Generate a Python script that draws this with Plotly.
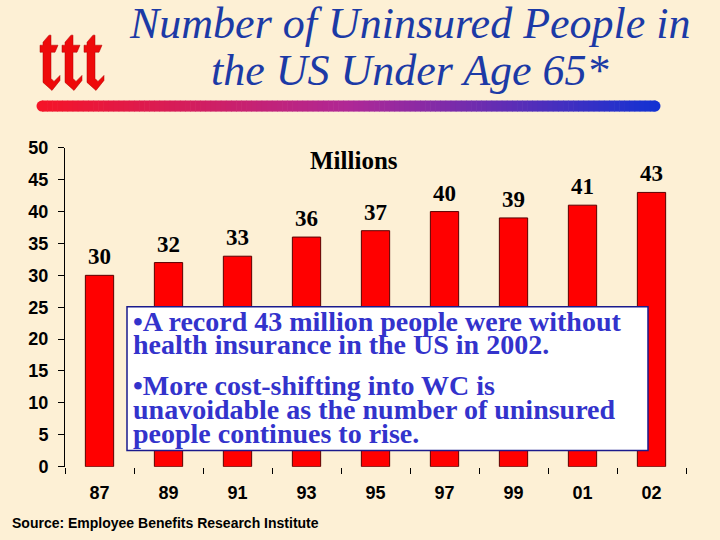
import plotly.graph_objects as go

# ---- data ----
years = ["87", "89", "91", "93", "95", "97", "99", "01", "02"]
uninsured_millions = [30, 32, 33, 36, 37, 40, 39, 41, 43]
y_ticks = [0, 5, 10, 15, 20, 25, 30, 35, 40, 45, 50]
title_lines = ["Number of Uninsured People in", "the US Under Age 65*"]
box_lines = [
    "•A record 43 million people were without",
    "health insurance in the US in 2002.",
    "•More cost-shifting into WC is",
    "unavoidable as the number of uninsured",
    "people continues to rise.",
]
source_text = "Source: Employee Benefits Research Institute"

W, H = 720, 540
BG = "#fdf0d5"

# page-pixel -> paper helpers (vertical mapping calibrated to the rendered page)
Y_OFF, Y_SPAN = 12.0, 517.0


def px(x):
    return x / W


def py(y):
    return 1 - (y - Y_OFF) / Y_SPAN


fig = go.Figure()
fig.add_trace(go.Bar(
    x=years, y=uninsured_millions,
    marker=dict(color="#ff0000", line=dict(color="#5a0000", width=1)),
    width=0.41, hoverinfo="x+y",
))

annotations = []
# value labels (category index positions)
for i, v in enumerate(uninsured_millions):
    annotations.append(dict(
        x=i, y=v, xref="x", yref="y", text=str(v), showarrow=False,
        yanchor="bottom", yshift=4,
        font=dict(family="Liberation Serif", size=23, color="black", weight="bold"),
    ))

annotations.append(dict(
    x=px(354), y=py(162), xref="paper", yref="paper", text="Millions",
    showarrow=False, xanchor="center", yanchor="middle",
    font=dict(family="Liberation Serif", size=25, color="black", weight="bold"),
))

# title
for txt, yc in zip(title_lines, [25, 72]):
    annotations.append(dict(
        x=px(410), y=py(yc), xref="paper", yref="paper", text=txt, showarrow=False,
        xanchor="center", yanchor="middle",
        font=dict(family="Liberation Serif", size=44, color="#1c3aa6", style="italic"),
    ))

# text box lines
for txt, yc in zip(box_lines, [322, 345, 385, 409, 433]):
    annotations.append(dict(
        x=px(131), y=py(yc), xref="paper", yref="paper", text=txt, showarrow=False,
        xanchor="left", yanchor="middle",
        font=dict(family="Liberation Serif", size=28, color="#3333cc", weight="bold"),
    ))

annotations.append(dict(
    x=px(10), y=py(522), xref="paper", yref="paper", text=source_text, showarrow=False,
    xanchor="left", yanchor="middle",
    font=dict(family="Liberation Sans Narrow, Liberation Sans", size=14, color="black", weight="bold"),
))

shapes = []
# text box
shapes.append(dict(
    type="rect", xref="paper", yref="paper",
    x0=px(127), x1=px(648), y0=py(450), y1=py(307),
    fillcolor="white", line=dict(color="#1a1a8c", width=1.5), layer="above",
))


# gradient rule under title
def grad(t):
    stops = [(0.0, (245, 20, 40)), (0.5, (175, 40, 150)), (1.0, (20, 50, 210))]
    for (t0, c0), (t1, c1) in zip(stops[:-1], stops[1:]):
        if t <= t1:
            f = (t - t0) / (t1 - t0)
            return "rgb(%d,%d,%d)" % tuple(round(a + (b - a) * f) for a, b in zip(c0, c1))
    return "rgb(20,50,210)"


gx0, gx1, gy0, gy1 = 42, 655, 102, 113
r = (gy1 - gy0) / 2
shapes.append(dict(type="circle", xref="paper", yref="paper",
                   x0=px(gx0 - r), x1=px(gx0 + r), y0=py(gy1), y1=py(gy0),
                   fillcolor=grad(0), line=dict(width=0)))
shapes.append(dict(type="circle", xref="paper", yref="paper",
                   x0=px(gx1 - r), x1=px(gx1 + r), y0=py(gy1), y1=py(gy0),
                   fillcolor=grad(1), line=dict(width=0)))
N = 120
for i in range(N):
    a = gx0 + (gx1 - gx0) * i / N
    b = gx0 + (gx1 - gx0) * (i + 1) / N + 0.6
    shapes.append(dict(type="rect", xref="paper", yref="paper",
                       x0=px(a), x1=px(b), y0=py(gy1), y1=py(gy0),
                       fillcolor=grad((i + 0.5) / N), line=dict(width=0)))

# logo: three blackletter-like glyphs
glyph = [(3, 7), (9, 0), (11, 0), (11, 10), (18, 10), (15, 17), (11, 17), (11, 43),
         (14, 46), (20, 40), (20, 45), (12, 55), (3, 47), (3, 17), (0, 17), (0, 10), (3, 10)]
for gx in [40, 62, 84]:
    pts = [(px(gx + dx), py(37 + dy)) for dx, dy in glyph]
    path = "M " + " L ".join("%f,%f" % p for p in pts) + " Z"
    shapes.append(dict(type="path", xref="paper", yref="paper", path=path,
                       fillcolor="#ee0a0a", line=dict(color="#b00000", width=0.5)))

fig.update_layout(
    width=W, height=H,
    margin=dict(l=0, r=0, t=0, b=0),
    paper_bgcolor=BG, plot_bgcolor="rgba(0,0,0,0)",
    showlegend=False,
    annotations=annotations, shapes=shapes,
    xaxis=dict(
        domain=[px(65), px(686)], range=[-0.5, 8.5], type="category",
        showline=False, showgrid=False, zeroline=False,
        ticks="outside", tickson="boundaries", ticklen=6, tickcolor="black", tickwidth=1,
        tickfont=dict(family="Liberation Sans", size=18, color="black", weight="bold"),
        ticklabelstandoff=13,
    ),
    yaxis=dict(
        domain=[py(466), py(149)], range=[0, 50],
        tickvals=y_ticks, showline=True, linecolor="black", linewidth=1,
        showgrid=False, zeroline=False,
        ticks="outside", ticklen=6, tickcolor="black",
        tickfont=dict(family="Liberation Sans", size=18, color="black", weight="bold"),
        ticklabelstandoff=6,
    ),
)

fig.write_html(
    "out.html",
    config={"displayModeBar": False},
    post_script="document.body.style.margin='0';document.body.style.background='%s';" % BG,
)
